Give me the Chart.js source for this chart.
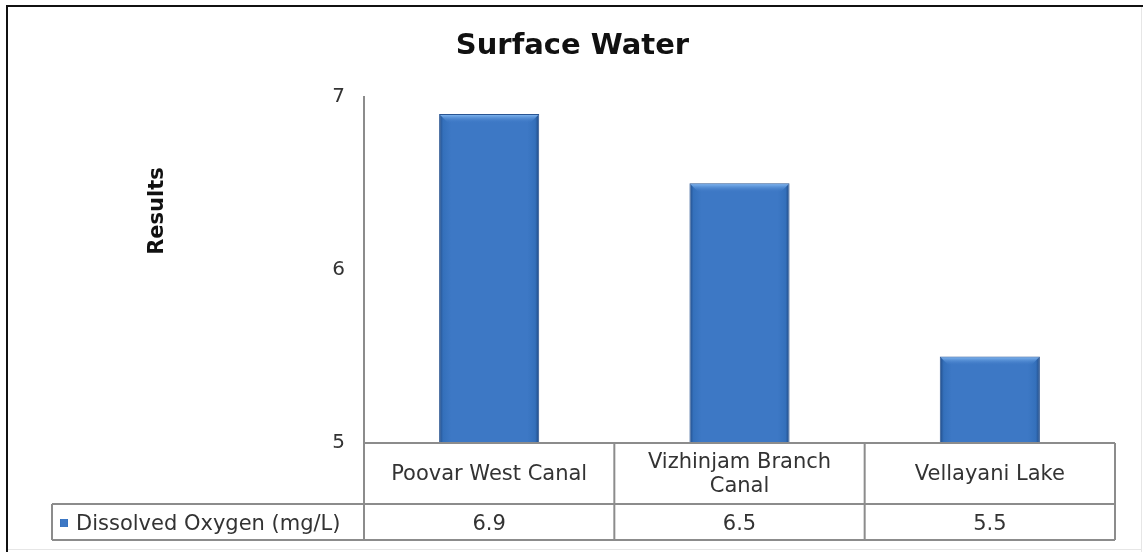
<!DOCTYPE html>
<html>
<head>
<meta charset="utf-8">
<script src="https://cdn.jsdelivr.net/npm/chart.js@4/dist/chart.umd.min.js"></script>
<style>
  html, body { margin: 0; padding: 0; background: #fff; }
  #wrap { width: 1143px; height: 552px; position: relative; }
</style>
</head>
<body>
<div id="wrap"><canvas id="chart"></canvas></div>
<script>
// values
const categories = ['Poovar West Canal', 'Vizhinjam Branch Canal', 'Vellayani Lake'];
const oxygenValues = [6.9, 6.5, 5.5];
const seriesName = 'Dissolved Oxygen (mg/L)';
const yTicks = [5, 6, 7];

const FONT = "'DejaVu Sans', Verdana, sans-serif";
const TEXT = '#333333';
const LINE = '#8c8c8c';

function barGradient(ctx, x0, x1) {
    const g = ctx.createLinearGradient(x0, 0, x1, 0);
    g.addColorStop(0, '#214a85');
    g.addColorStop(0.04, '#3470bb');
    g.addColorStop(0.12, '#3d78c5');
    g.addColorStop(0.88, '#3d78c5');
    g.addColorStop(0.96, '#3470bb');
    g.addColorStop(1, '#1f4780');
    return g;
}

function wrapText(ctx, text, maxW) {
    const words = text.split(' ');
    const lines = [];
    let cur = '';
    words.forEach(w => {
        const test = cur ? cur + ' ' + w : w;
        if (ctx.measureText(test).width > maxW && cur) {
            lines.push(cur);
            cur = w;
        } else {
            cur = test;
        }
    });
    if (cur) lines.push(cur);
    return lines;
}

// light bevel on top of each bar
const bevel = {
    id: 'bevel',
    afterDatasetsDraw(chart) {
        const ctx = chart.ctx;
        chart.getDatasetMeta(0).data.forEach(bar => {
            const l = bar.x - bar.width / 2 + 1;
            const r = bar.x + bar.width / 2 - 1;
            const t = bar.y + 1;
            const h = 8;
            const g = ctx.createLinearGradient(0, t, 0, t + h);
            g.addColorStop(0, '#7ab0ec');
            g.addColorStop(1, 'rgba(61,120,197,0)');
            ctx.save();
            ctx.fillStyle = g;
            ctx.beginPath();
            ctx.moveTo(l, t);
            ctx.lineTo(r, t);
            ctx.lineTo(r - h, t + h);
            ctx.lineTo(l + h, t + h);
            ctx.closePath();
            ctx.fill();
            ctx.restore();
        });
    }
};

// frame, rotated "Results" title and the data table under the plot
const extras = {
    id: 'extras',
    afterDraw(chart) {
        const ctx = chart.ctx;
        const area = chart.chartArea;
        const x = chart.scales.x;
        const W = chart.width, H = chart.height;

        ctx.save();
        // outer frame
        ctx.fillStyle = '#e6e6e6';
        ctx.fillRect(W - 2, 7, 1, H - 7);
        ctx.fillRect(7, H - 3, W - 8, 1);
        ctx.fillStyle = '#111';
        ctx.fillRect(6, 5, W - 6, 2);
        ctx.fillRect(6, 5, 2, H - 5);

        // axis title
        ctx.save();
        ctx.translate(158, 211);
        ctx.rotate(-Math.PI / 2);
        ctx.font = 'bold 21px ' + FONT;
        ctx.fillStyle = '#111';
        ctx.textAlign = 'center';
        ctx.textBaseline = 'middle';
        ctx.fillText('Results', 0, 0);
        ctx.restore();

        // table
        const step = (x.right - x.left) / categories.length;
        const top = area.bottom;
        const mid = top + 61;
        const bot = mid + 36;
        const legendLeft = 52;

        ctx.strokeStyle = LINE;
        ctx.lineWidth = 2;
        ctx.beginPath();
        ctx.moveTo(area.left, top); ctx.lineTo(area.right, top);
        ctx.moveTo(legendLeft, mid); ctx.lineTo(area.right, mid);
        ctx.moveTo(legendLeft, bot); ctx.lineTo(area.right, bot);
        ctx.moveTo(legendLeft, mid); ctx.lineTo(legendLeft, bot);
        for (let i = 0; i <= categories.length; i++) {
            const xx = area.left + i * step;
            ctx.moveTo(xx, top); ctx.lineTo(xx, bot);
        }
        ctx.stroke();

        ctx.fillStyle = TEXT;
        ctx.font = '21px ' + FONT;
        ctx.textAlign = 'center';
        ctx.textBaseline = 'middle';
        categories.forEach((c, i) => {
            const cx = x.getPixelForValue(i);
            const lines = wrapText(ctx, c, step - 30);
            const lh = 24;
            const y0 = (top + mid) / 2 + 1 - (lines.length - 1) * lh / 2;
            lines.forEach((ln, k) => ctx.fillText(ln, cx, y0 + k * lh));
            ctx.fillText(String(oxygenValues[i]), cx, (mid + bot) / 2 + 3);
        });

        // legend key + series name
        const ky = (mid + bot) / 2 + 1;
        ctx.fillStyle = barGradient(ctx, 60, 68);
        ctx.fillRect(60, ky - 4, 8, 8);
        ctx.fillStyle = TEXT;
        ctx.textAlign = 'left';
        ctx.fillText(seriesName, 76, ky + 2);
        ctx.restore();
    }
};

const ctx = document.getElementById('chart');

new Chart(ctx, {
    type: 'bar',
    data: {
        labels: categories,
        datasets: [
            {
                label: seriesName,
                data: oxygenValues,
                backgroundColor: (c) => {
                    const chart = c.chart;
                    if (!chart.chartArea) return '#3d78c5';
                    const x = chart.scales.x;
                    const cx = x.getPixelForValue(c.dataIndex);
                    const w = (x.right - x.left) / categories.length * 0.4;
                    return barGradient(chart.ctx, cx - w / 2, cx + w / 2);
                },
                borderColor: '#2a5592',
                borderWidth: 1,
                barPercentage: 0.4,
                categoryPercentage: 1
            }
        ]
    },
    options: {
        responsive: true,
        maintainAspectRatio: false,
        animation: false,
        layout: {
            padding: { left: 30, right: 28, top: 0, bottom: 109 }
        },
        plugins: {
            legend: { display: false },
            tooltip: { enabled: false },
            title: {
                display: true,
                text: 'Surface Water',
                color: '#111',
                font: { family: FONT, size: 29, weight: 'bold' },
                padding: { top: 29, bottom: 33 }
            }
        },
        scales: {
            x: {
                display: false
            },
            y: {
                min: yTicks[0],
                max: yTicks[yTicks.length - 1],
                afterFit: (s) => { s.width = 334; },
                afterBuildTicks: (s) => { s.ticks = yTicks.map(v => ({ value: v })); },
                grid: { display: true, color: 'rgba(0,0,0,0)', drawTicks: false },
                border: { display: true, color: LINE, width: 2 },
                ticks: {
                    padding: 19,
                    color: TEXT,
                    font: { family: FONT, size: 20 }
                }
            }
        }
    },
    plugins: [bevel, extras]
});
</script>
</body>
</html>
